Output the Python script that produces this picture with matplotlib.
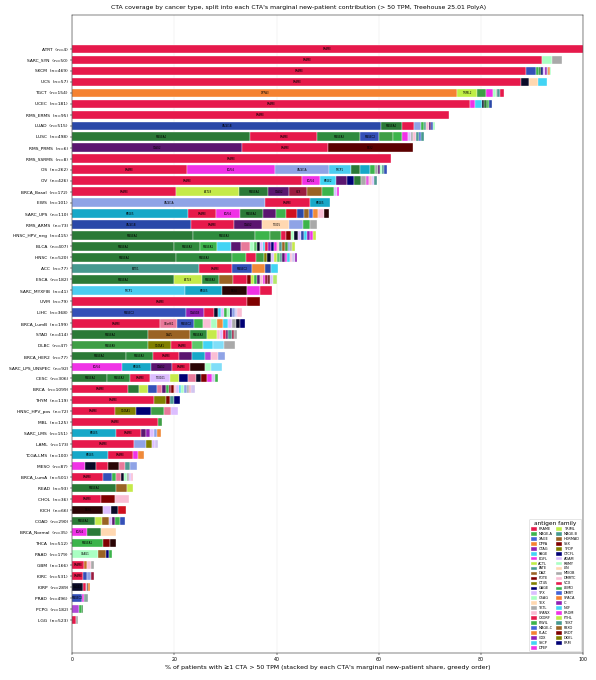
# CTA coverage by cancer type, stacked by each CTA's marginal new-patient share
import matplotlib.pyplot as plt
from matplotlib.patches import Patch

# cancer cohorts (top to bottom) and cohort sizes
cancers = ['ATRT', 'SARC_SYN', 'SKCM', 'UCS', 'TGCT', 'UCEC', 'RMS_ERMS', 'LUAD', 'LUSC',
           'RMS_PRMS', 'RMS_SSRMS', 'OS', 'OV', 'BRCA_Basal', 'EWS', 'SARC_UPS', 'RMS_ARMS',
           'HNSC_HPV_neg', 'BLCA', 'HNSC', 'ACC', 'ESCA', 'SARC_MYXFIB', 'UVM', 'LIHC',
           'BRCA_LumB', 'STAD', 'DLBC', 'BRCA_HER2', 'SARC_LPS_UNSPEC', 'CESC', 'BRCA', 'THYM',
           'HNSC_HPV_pos', 'MBL', 'SARC_LMS', 'LAML', 'TCGA-LMS', 'MESO', 'BRCA_LumA', 'READ',
           'CHOL', 'KICH', 'COAD', 'BRCA_Normal', 'THCA', 'PAAD', 'GBM', 'KIRC', 'KIRP', 'PRAD',
           'PCPG', 'LGG']
n_patients = [4, 50, 469, 57, 154, 181, 95, 515, 498, 6, 8, 262, 426, 172, 101, 110, 73,
              415, 407, 520, 77, 182, 41, 79, 368, 199, 414, 47, 77, 92, 306, 1099, 119,
              72, 125, 151, 173, 100, 87, 501, 93, 36, 66, 290, 35, 512, 179, 166, 531, 289, 496,
              182, 523]

# genes in greedy order per cohort, and their marginal % of new patients covered
seg_genes = [
    ['PRAME'],
    ['PRAME', 'CSAG1', 'TKTL1'],
    ['PRAME', 'MAGEC2', 'MAGEA1', 'MAGEA4', 'GAGE1', 'TEX101', 'CTAG1B', 'TKTL1', 'PLAC1', 'CSAG1'],
    ['PRAME', 'GAGE2', 'TEX15', 'PAGE2'],
    ['DPPA3', 'TRIML2', 'MAGEA9', 'EGFL6', 'CSAG1', 'TKTL1', 'MAGEB2', 'PRAME'],
    ['PRAME', 'EGFL6', 'PAGE2', 'GAGE2', 'MAGEA4', 'MAGEA1', 'XAGE1B'],
    ['PRAME'],
    ['XAGE1B', 'MAGEA4', 'PRAME', 'XAGE1A', 'MAGEA1', 'MAGEB2', 'SPANXB1', 'CTAG2', 'MAGEC2', 'CSAG1'],
    ['MAGEA4', 'PRAME', 'MAGEA3', 'MAGEC2', 'MAGEA9', 'MAGEA1', 'EGFL6', 'TEX101', 'TKTL1',
     'SPANXB1', 'MAGEB2', 'MAGEC1', 'FATE1'],
    ['CTAG2', 'PRAME', 'SSX2'],
    ['PRAME'],
    ['PRAME', 'EGFL6', 'XAGE1A', 'SYCP1', 'MAGEA4', 'PAGE5', 'MAGEA1', 'TKTL1', 'CTAG2', 'CSAG1',
     'MAGEB2', 'MAGEC2'],
    ['PRAME', 'EGFL6', 'PAGE2', 'CTAG2', 'GAGE1', 'MAGEA4', 'TKTL1', 'PROM2', 'SPANXB1', 'TEX101',
     'MAGEB2'],
    ['PRAME', 'ACTL8', 'MAGEA4', 'CTAG2', 'VCX', 'DAZL', 'MAGEA1', 'TEX101', 'EGFL6'],
    ['XAGE1A', 'PRAME', 'PAGE5'],
    ['PAGE5', 'PRAME', 'EGFL6', 'MAGEA4', 'CTAG2', 'MAGEA1', 'VCX3A', 'XAGE1B', 'DAZL', 'MAGEC1',
     'PLAC1', 'SPANXB1', 'SSX4'],
    ['XAGE1B', 'PRAME', 'CTAG2', 'TEX15', 'XAGE1A', 'MAGEA1', 'TKTL1'],
    ['MAGEA4', 'MAGEA3', 'MAGEA1', 'MAGEA9', 'PRAME', 'SSX1', 'CSAG1', 'GAGE2', 'TEX101', 'XAGE1B',
     'PAGE2', 'CTAG1B', 'EGFL6', 'ACTL8'],
    ['MAGEA4', 'MAGEA3', 'MAGEA1', 'PAGE2', 'CTAG2', 'CXorf61', 'CSAG1', 'MAGEA10', 'GAGE2',
     'TEX101', 'SYCP1', 'PRAME', 'CTAG1B', 'GAGE1', 'EGFL6', 'SPANXB1', 'MAGEB2', 'DAZL', 'MAGEA9',
     'XAGE1A', 'TKTL1', 'ACTL8'],
    ['MAGEA4', 'MAGEA3', 'MAGEA1', 'PRAME', 'MAGEA9', 'CT45A1', 'GAGE2', 'TEX101', 'ACTL8',
     'MAGEA10', 'MAGEB2', 'CTAG2', 'EGFL6', 'PAGE2', 'SPANXB1', 'ADAM2', 'CTAG1B'],
    ['FATE1', 'PRAME', 'MAGEC2', 'PLAC1', 'XAGE1B', 'PAGE2'],
    ['MAGEA4', 'ACTL8', 'MAGEA3', 'DAZL', 'PRAME', 'SSX1', 'TRIML2', 'MAGEA1', 'CTAG2', 'SPANXB1',
     'EGFL6', 'VCX', 'SSX2', 'TEX101', 'FTHL17'],
    ['SYCP1', 'PAGE5', 'SSX4', 'EGFL6', 'PRAME'],
    ['PRAME', 'SSX1'],
    ['MAGEC2', 'CTAG1B', 'PRAME', 'GAGE2', 'PAGE2', 'TEX101', 'MAGEA1', 'CSAG1', 'GAGE1', 'XAGE1A',
     'ADAM2', 'SPANXB1'],
    ['PRAME', 'CXorf61', 'MAGEC2', 'MAGEA1', 'SPANXB1', 'CSAG1', 'PLAC1', 'PAGE2', 'TEX101',
     'TKTL1', 'GAGE2', 'GAGE1'],
    ['MAGEA4', 'DAZL', 'MAGEA3', 'ACTL8', 'SPANXB1', 'TEX101', 'PRAME', 'CTAG2', 'MAGEB2', 'VCX',
     'TKTL1'],
    ['MAGEA9', 'CT45A1', 'PRAME', 'MAGEA10', 'PAGE2', 'SYCP3', 'TKTL1'],
    ['MAGEA4', 'MAGEA3', 'PRAME', 'CTAG2', 'PAGE5', 'COX6B2', 'SPANXB1', 'XAGE1A'],
    ['EGFL6', 'PAGE5', 'CTAG2', 'PRAME', 'SSX4', 'CSAG1', 'SYCP3'],
    ['MAGEA4', 'MAGEA3', 'PRAME', 'TEX101', 'ACTL8', 'GAGE1', 'CXorf61', 'GAGE2', 'SSX1', 'EGFL6',
     'ADAM2', 'MAGEA1'],
    ['PRAME', 'MAGEA4', 'ACTL8', 'MAGEC2', 'CXorf61', 'CTAG2', 'MAGEA1', 'VCX', 'SSX1', 'SPANXB1',
     'TEX101', 'PAGE2', 'CSAG1', 'XAGE1A', 'TKTL1', 'DMRTC2', 'ADAM2'],
    ['PRAME', 'CT45A1', 'SSX1', 'MAGEB2', 'GAGE1'],
    ['PRAME', 'CT45A1', 'GAGE1', 'MAGEA9', 'CXorf61', 'TEX101'],
    ['PRAME', 'MAGEA9'],
    ['PAGE5', 'PRAME', 'CTAG2', 'CTAG1B', 'TEX101', 'XAGE1A', 'PLAC1'],
    ['PRAME', 'XAGE1A', 'CT45A1', 'TEX101', 'ADAM2'],
    ['PAGE5', 'PRAME', 'EGFL6', 'PLAC1'],
    ['EGFL6', 'GAGE2', 'PRAME', 'SSX4', 'CXorf61', 'MAGEB2', 'XAGE1A'],
    ['PRAME', 'MAGEC2', 'MAGEA1', 'CXorf61', 'GAGE2', 'CSAG1', 'TKTL1', 'TEX101', 'SPANXB1'],
    ['MAGEA4', 'DAZL', 'ACTL8'],
    ['PRAME', 'SSX1', 'SPANXB1'],
    ['SSX4', 'TEX101', 'GAGE2', 'VCX3A'],
    ['MAGEA4', 'ACTL8', 'DAZL', 'TEX101', 'CTAG2', 'MAGEA1', 'MAGEC2'],
    ['EGFL6', 'MAGEA4', 'TEX15'],
    ['MAGEA1', 'SSX1', 'SSX4'],
    ['CSAG1', 'DAZL', 'GAGE1', 'MAGEA1'],
    ['PRAME', 'HORMAD1', 'SPANXB1', 'TKTL1'],
    ['PRAME', 'MAGEC2', 'XAGE1A', 'VCX'],
    ['GAGE2', 'PRAME', 'TKTL1', 'SSX4', 'PLAC1'],
    ['MAGEC2', 'EGFL6', 'MEIOB'],
    ['COX6B2', 'MAGEA1', 'MAGEA4'],
    ['PRAME', 'TKTL1'],
]
seg_pct = [
    [100.0],
    [92.0, 2.0, 1.9],
    [88.9, 1.9, 0.5, 0.4, 0.4, 0.4, 0.4, 0.3, 0.3, 0.3],
    [87.9, 1.5, 1.8, 1.7],
    [75.3, 4.0, 1.7, 1.3, 0.6, 0.3, 0.6, 0.7],
    [77.9, 1.0, 1.3, 0.5, 0.4, 0.5, 0.6],
    [73.8],
    [60.5, 4.1, 2.3, 1.4, 0.5, 0.5, 0.5, 0.4, 0.4, 0.4],
    [34.9, 13.1, 8.4, 3.7, 2.7, 1.8, 1.2, 0.5, 0.5, 0.5, 0.6, 0.4, 0.6],
    [33.3, 16.8, 16.6],
    [62.4],
    [22.5, 17.3, 10.5, 4.3, 1.8, 1.9, 1.0, 0.5, 0.4, 0.5, 0.4, 0.5],
    [45.0, 3.5, 3.2, 2.1, 1.4, 1.4, 0.9, 0.6, 0.5, 0.5, 0.6],
    [20.4, 12.3, 5.7, 4.1, 3.5, 2.9, 2.4, 0.5, 0.5],
    [37.8, 8.7, 4.0],
    [22.7, 5.5, 4.7, 4.5, 2.5, 2.0, 2.2, 1.3, 1.0, 0.8, 1.0, 1.0, 1.0],
    [23.3, 8.4, 5.5, 5.3, 2.7, 1.4, 1.4],
    [23.7, 12.1, 2.9, 2.2, 1.0, 1.0, 0.6, 0.8, 0.5, 0.6, 0.6, 0.5, 0.6, 0.6],
    [20.0, 5.0, 3.4, 2.7, 1.9, 1.8, 0.7, 0.6, 0.7, 0.5, 0.5, 0.6, 0.5, 0.6, 0.5, 0.5, 0.6, 0.5,
     0.6, 0.5, 0.4, 0.6],
    [20.3, 11.0, 2.7, 2.0, 1.6, 0.6, 0.8, 0.5, 0.6, 0.5, 0.5, 0.5, 0.5, 0.5, 0.5, 0.5, 0.4],
    [24.8, 6.5, 3.9, 2.6, 1.2, 1.3],
    [20.0, 5.4, 3.4, 2.7, 2.7, 0.8, 0.6, 0.6, 0.5, 0.6, 0.5, 0.5, 0.5, 0.5, 0.8],
    [22.1, 7.3, 4.8, 2.6, 2.3],
    [34.3, 2.5],
    [22.3, 3.5, 2.0, 0.8, 0.6, 0.5, 0.6, 0.5, 0.5, 0.5, 0.5, 1.0],
    [17.2, 3.4, 3.3, 1.7, 1.5, 1.2, 1.2, 1.0, 0.8, 0.8, 0.8, 0.9],
    [14.9, 8.2, 3.3, 2.0, 0.6, 0.5, 0.6, 0.5, 0.6, 0.5, 0.6],
    [14.9, 4.5, 4.1, 2.1, 2.0, 2.1, 2.2],
    [10.6, 5.2, 5.1, 2.6, 2.5, 1.2, 1.4, 1.3],
    [9.8, 5.6, 4.2, 3.5, 2.9, 1.2, 2.2],
    [6.9, 4.5, 3.9, 3.9, 1.7, 1.8, 1.6, 1.0, 1.0, 1.0, 0.6, 0.7],
    [11.0, 2.1, 1.8, 1.7, 1.0, 0.8, 0.5, 0.5, 0.5, 0.5, 0.5, 0.5, 0.5, 0.5, 0.5, 0.4, 0.7],
    [16.0, 2.4, 0.8, 0.8, 1.2],
    [8.4, 4.1, 2.9, 2.6, 1.4, 1.3],
    [16.8, 0.8],
    [8.6, 4.9, 1.0, 0.8, 0.8, 0.6, 0.6],
    [12.1, 2.4, 1.2, 0.6, 0.5],
    [7.1, 4.8, 1.0, 1.2],
    [2.5, 2.2, 2.3, 2.2, 1.2, 1.0, 1.3],
    [6.0, 1.8, 0.8, 1.0, 0.6, 0.5, 0.5, 0.4, 0.4],
    [8.6, 2.2, 1.1],
    [5.7, 2.7, 2.8],
    [6.1, 1.5, 1.4, 1.6],
    [4.5, 1.4, 1.3, 0.6, 0.6, 1.0, 1.0],
    [3.0, 2.7, 2.9],
    [6.1, 1.3, 1.2],
    [5.1, 1.5, 0.6, 0.6],
    [2.3, 0.7, 0.7, 0.6],
    [2.2, 0.8, 0.6, 0.7],
    [2.2, 0.6, 0.2, 0.2, 0.2],
    [2.0, 0.4, 0.7],
    [1.4, 0.5, 0.3],
    [0.8, 0.4],
]

# antigen families shown in the legend
families = ['PRAME', 'MAGE-A', 'XAGE', 'DPPA', 'CTAG', 'PAGE', 'EGFL', 'ACTL', 'FATE', 'DAZ',
            'POTE', 'CT45', 'GAGE', 'TPX', 'CSAG', 'TEX', 'TKTL', 'SPANX', 'CXORF', 'PIWIL',
            'MAGE-C', 'PLAC', 'COX', 'SYCP', 'DPEP',
            'TRIML', 'MAGE-B', 'HORMAD', 'SSX', 'TFDP', 'CTCFL', 'ADAM', 'RBMY', 'LIN', 'MEIOB',
            'DMRTC', 'VCX', 'LEMD', 'DMRT', 'SPACA', 'C', 'NXF', 'PROM', 'FTHL', 'TEKT', 'FBXO',
            'BRDT', 'DKKL', 'PRM']

palette = ['#e6194b', '#3cb44b', '#4363d8', '#f58231', '#911eb4', '#42d4f4', '#f032e6',
           '#bfef45', '#469990', '#9a6324', '#800000', '#808000', '#000075', '#dcbeff',
           '#aaffc3', '#ffd8b1', '#a9a9a9', '#fabed4']

# per-gene shades of the family colour
gene_color = {
    'PRAME': '#e6194b', 'MAGEA4': '#2b7a37', 'MAGEA3': '#2f8b3e', 'MAGEA1': '#3cb44b',
    'MAGEA9': '#3e9e45', 'MAGEA10': '#5cc86a', 'XAGE1B': '#2a48a8', 'XAGE1A': '#8fa3e6',
    'MAGEC2': '#3450b8', 'MAGEC1': '#4363d8', 'DPPA3': '#f58231', 'PLAC1': '#f08a3a',
    'TRIML2': '#bfef45', 'ACTL8': '#c5ea4a', 'FTHL17': '#b4e86a', 'CTAG2': '#5b1670',
    'CTAG1B': '#911eb4', 'COX6B2': '#b04ad8', 'PAGE5': '#17a8c8', 'PAGE2': '#42d4f4',
    'SYCP1': '#4ccdf0', 'SYCP3': '#80def8', 'EGFL6': '#f032e6', 'PROM2': '#e85ae0',
    'FATE1': '#469990', 'MAGEB2': '#4f9a92', 'MEIOB': '#8aa6a0', 'DAZL': '#9a6324',
    'HORMAD1': '#c8702a', 'SSX1': '#800000', 'SSX2': '#5c0000', 'SSX4': '#2a0505',
    'CT45A1': '#808000', 'GAGE1': '#000075', 'GAGE2': '#0a0a28', 'TEX101': '#dcbeff',
    'ADAM2': '#d2c4f0', 'CSAG1': '#aaffc3', 'TEX15': '#ffd8b1', 'TKTL1': '#a9a9a9',
    'SPANXB1': '#fabed4', 'DMRTC2': '#f4a8c0', 'CXorf61': '#e8799a', 'VCX': '#9b1b3f',
    'VCX3A': '#d0101e',
}

fig = plt.figure(figsize=(596.2 / 42.6, 680.2 / 42.6))
ax = fig.add_axes([0.121, 0.040, 0.857, 0.938])

for i in range(len(cancers)):
    genes = seg_genes[i]
    vals = seg_pct[i]
    total = sum(vals)
    left = 0
    for g, w in zip(genes, vals):
        ax.barh(i, w, left=left, height=0.76, color=gene_color[g],
                edgecolor='white', linewidth=0.6)
        if w >= 3 or (w >= 1.8 and w >= 0.45 * total):
            ax.text(left + w / 2, i, g, ha='center', va='center', fontsize=4.5)
        left += w

ax.set_yticks(range(len(cancers)))
ax.set_yticklabels([f'{c}  (n={n})' for c, n in zip(cancers, n_patients)], fontsize=7.5)
ax.set_ylim(55.0, -3.1)
ax.set_xlim(0, 100)
ax.tick_params(axis='x', labelsize=8)
ax.grid(axis='x', color='#e6e6e6', linewidth=0.8)
ax.set_axisbelow(True)

ax.set_xlabel("% of patients with \u22651 CTA > 50 TPM (stacked by each CTA's marginal "
              "new-patient share, greedy order)", fontsize=10.6)
fig.suptitle("CTA coverage by cancer type, split into each CTA's marginal new-patient "
             "contribution (> 50 TPM, Treehouse 25.01 PolyA)", fontsize=10.3, y=0.992)

handles = [Patch(color=palette[k % len(palette)], label=f) for k, f in enumerate(families)]
ax.legend(handles=handles, loc='lower right', ncol=2, fontsize=6, title='antigen family',
          title_fontsize=10, handlelength=1.4, handleheight=0.8, labelspacing=0.27,
          columnspacing=1.0, borderpad=0.4)

fig.savefig('out.png', dpi=42.6)
